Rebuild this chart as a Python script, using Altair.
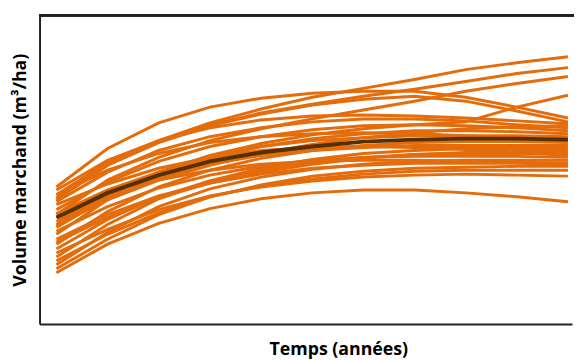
import altair as alt
import pandas as pd

# Time points (years, arbitrary units since no tick labels are shown)
years = [0, 10, 20, 30, 40, 50, 60, 70, 80, 90, 100]

# Individual stand trajectories (volume marchand, arbitrary m3/ha units)
series = [
    [126, 161, 186, 204, 218, 230, 239, 248, 258, 265, 271],
    [131, 164, 186, 202, 214, 223, 231, 238, 246, 254, 260],
    [111, 146, 169, 186, 198, 208, 217, 226, 236, 244, 251],
    [101, 131, 154, 171, 183, 192, 198, 202, 205, 220, 232],
    [139, 178, 204, 220, 229, 234, 236, 236, 230, 220, 209],
    [128, 161, 184, 201, 213, 222, 228, 231, 226, 216, 205],
    [136, 166, 186, 199, 207, 211, 212, 211, 209, 206, 203],
    [124, 154, 176, 190, 199, 205, 208, 208, 206, 202, 199],
    [116, 144, 165, 180, 190, 197, 201, 202, 201, 199, 196],
    [91, 126, 151, 168, 180, 188, 193, 196, 196, 195, 193],
    [104, 131, 154, 170, 180, 186, 189, 191, 191, 191, 190],
    [81, 114, 139, 156, 168, 176, 181, 184, 185, 185, 184],
    [98, 128, 148, 162, 171, 176, 179, 181, 181, 181, 181],
    [68, 101, 127, 145, 158, 167, 173, 176, 178, 178, 178],
    [112, 136, 154, 166, 174, 178, 180, 180, 179, 178, 176],
    [76, 106, 129, 145, 156, 164, 169, 172, 173, 173, 173],
    [94, 119, 138, 151, 160, 166, 169, 170, 170, 170, 169],
    [60, 93, 119, 137, 149, 157, 162, 165, 166, 166, 166],
    [86, 111, 130, 143, 152, 158, 161, 163, 163, 163, 162],
    [56, 86, 111, 129, 141, 150, 155, 158, 159, 160, 160],
    [64, 91, 113, 129, 140, 147, 152, 155, 156, 156, 156],
    [72, 96, 116, 130, 139, 145, 149, 151, 152, 151, 150],
    [52, 81, 102, 117, 127, 133, 136, 136, 133, 129, 124],
    [108, 130, 146, 156, 162, 165, 166, 166, 165, 164, 163],
    [131, 156, 173, 184, 190, 193, 194, 193, 191, 188, 186],
    [121, 142, 158, 169, 176, 179, 180, 179, 177, 174, 171],
    [100, 126, 146, 161, 173, 182, 189, 194, 198, 200, 201],
    [83, 108, 128, 143, 154, 162, 168, 172, 174, 175, 176],
]

# Mean trajectory
mean_curve = [108, 133, 151, 165, 174, 180, 185, 187, 188, 188, 187]

rows = []
for i, s in enumerate(series):
    for t, v in zip(years, s):
        rows.append({"id": i, "t": t, "v": v})
df = pd.DataFrame(rows)
df_mean = pd.DataFrame({"t": years, "v": mean_curve})

FONT = "Open Sans"

xscale = alt.Scale(domain=[-3.3, 100.8], nice=False, zero=False)
yscale = alt.Scale(domain=[0, 313], nice=False, zero=False)

xaxis = alt.Axis(
    title="Temps (années)", labels=False, ticks=False, grid=False,
    domain=True, domainColor="#222222", domainWidth=2,
    titleFont=FONT, titleFontSize=18, titleFontWeight="bold", titleColor="#000000",
    titleX=303, titleY=31, titleBaseline="alphabetic", titleAnchor="middle",
)
yaxis = alt.Axis(
    title="Volume marchand (m³/ha)", labels=False, ticks=False, grid=False,
    domain=True, domainColor="#222222", domainWidth=2,
    titleFont=FONT, titleFontSize=18, titleFontWeight="bold", titleColor="#000000",
    titleX=-19, titleBaseline="middle",
)

lines = alt.Chart(df).mark_line(color="#E46C0A", strokeWidth=3).encode(
    x=alt.X("t:Q", scale=xscale, axis=xaxis),
    y=alt.Y("v:Q", scale=yscale, axis=yaxis),
    detail="id:N",
)

mean = alt.Chart(df_mean).mark_line(color="#553006", strokeWidth=4).encode(
    x=alt.X("t:Q", scale=xscale),
    y=alt.Y("v:Q", scale=yscale),
)

top = alt.Chart(df_mean).mark_rule(color="#222222", strokeWidth=2).encode(
    x=alt.value(0), x2=alt.value(560), y=alt.value(0),
)

chart = alt.layer(lines, mean, top).properties(
    width=540, height=313,
    autosize=alt.AutoSizeParams(type="none"),
    padding={"left": 32, "top": 5, "right": 2, "bottom": 34},
).configure_view(stroke=None)

chart.save("out.html", embed_options={"renderer": "svg", "actions": False})
